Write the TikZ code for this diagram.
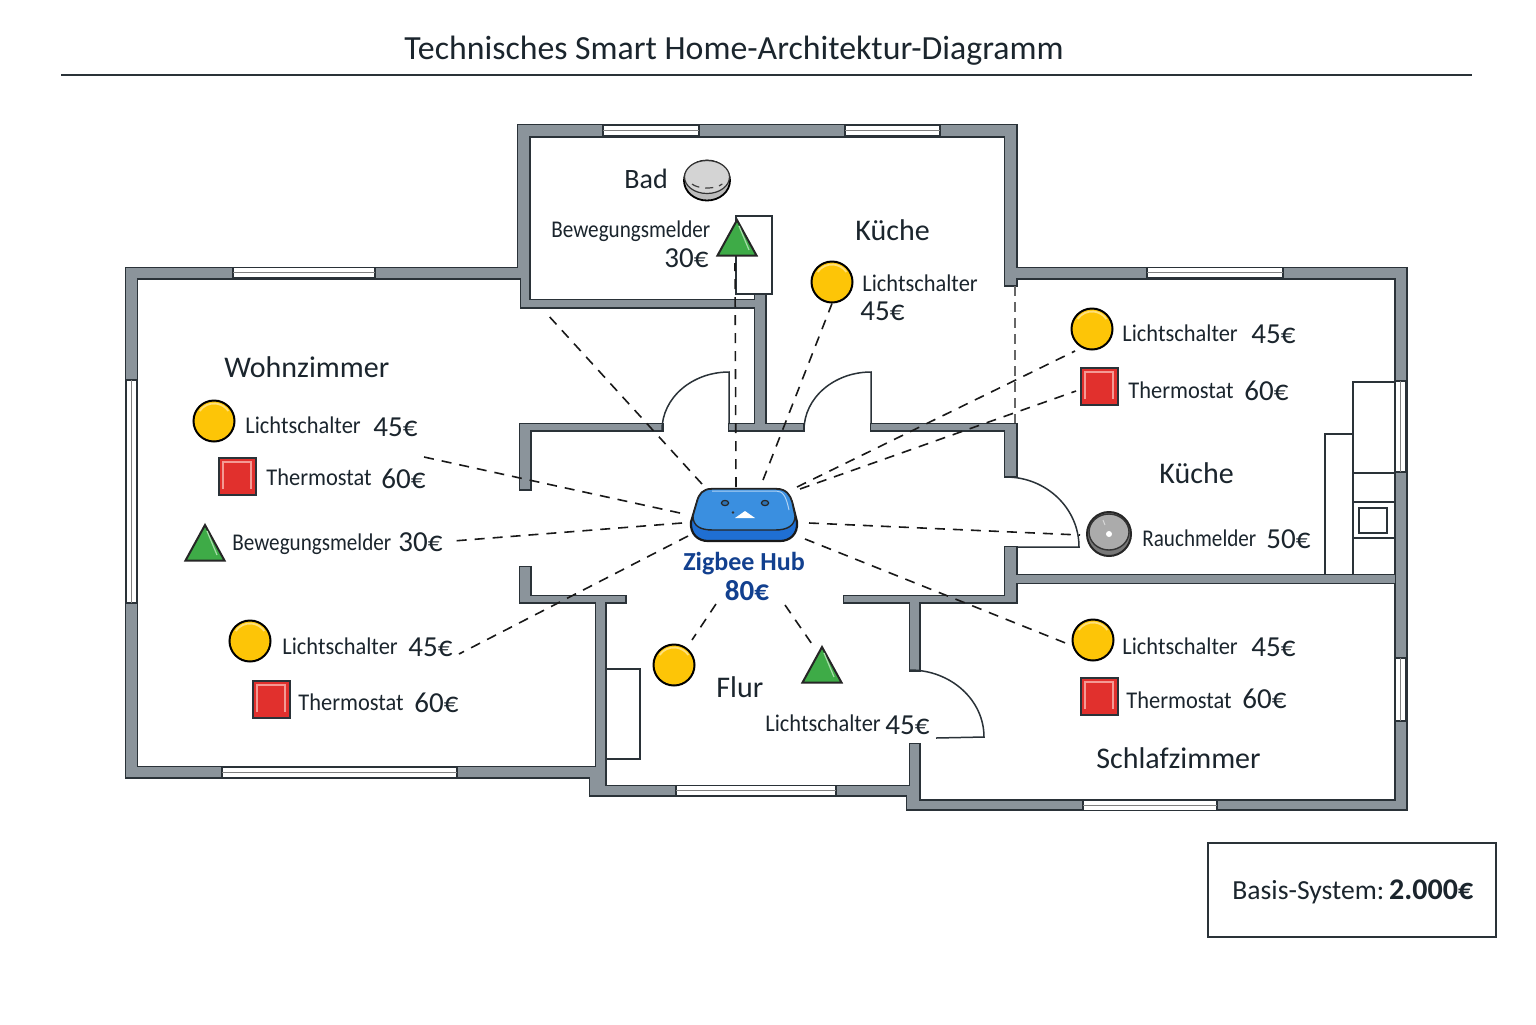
\documentclass[tikz,border=0pt]{standalone}
\usepackage{fontspec}
\setmainfont{Carlito}
\newfontfamily\labfont[FakeStretch=0.935]{Carlito}
\newfontfamily\bewfont[FakeStretch=0.88]{Carlito}
\definecolor{ink}{HTML}{1B252D}
\definecolor{wallc}{HTML}{8B949B}
\definecolor{wallline}{HTML}{2A3238}
\definecolor{lampc}{HTML}{FDC507}
\definecolor{lamphi}{HTML}{FFE07A}
\definecolor{redc}{HTML}{E1302D}
\definecolor{redhi}{HTML}{F49A94}
\definecolor{greenc}{HTML}{3EAB47}
\definecolor{greenhi}{HTML}{A6DDA9}
\definecolor{hubtop}{HTML}{3A8FE0}
\definecolor{hubbot}{HTML}{1F6FD3}
\definecolor{hubtext}{HTML}{12408F}
\definecolor{diskc}{HTML}{D4D4D4}
\definecolor{diskd}{HTML}{ABABAB}
\tikzset{
  lab/.style={anchor=base west,inner sep=0pt,text=ink,font=\fontsize{12}{14}\selectfont\labfont},
  bew/.style={anchor=base west,inner sep=0pt,text=ink,font=\fontsize{12}{14}\selectfont\bewfont},
  price/.style={anchor=base west,inner sep=0pt,text=ink,font=\fontsize{14.5}{17}\selectfont},
  room/.style={anchor=base west,inner sep=0pt,text=ink,font=\fontsize{15}{18}\selectfont},
  link/.style={draw=black!90,line width=0.8pt,dash pattern=on 5pt off 4pt},
  thin line/.style={draw=wallline,line width=0.75pt},
  lamp/.style={circle,draw=black,line width=1pt,fill=lampc,minimum size=20.5pt,inner sep=0pt},
  redbox/.style={rectangle,draw=wallline,line width=1pt,fill=redc,minimum size=18.5pt,inner sep=0pt},
  ghost/.style={rectangle,minimum width=19.5pt,minimum height=17.5pt,inner sep=0pt},
  disk/.style={circle,minimum size=21pt,inner sep=0pt}
}
\newcommand\lampdev[3]{\begin{scope}[shift={(#2,#3)}]
  \node[lamp] (#1) at (0,0) {};
  \draw[lamphi,line width=0.9pt] (0,0) ++(215:17.5) arc[start angle=215,end angle=325,radius=17.5];
\end{scope}}
\newcommand\thermo[3]{\begin{scope}[shift={(#2,#3)}]
  \node[redbox] (#1) at (0,0) {};
  \draw[redhi,line width=0.6pt] (-14,13)--(-14,-14)--(14,-14)--(14,13);
\end{scope}}
\newcommand\motion[3]{\begin{scope}[shift={(#2,#3)}]
  \node[ghost] (#1) at (0,0) {};
  \draw[black!85,line width=1pt,fill=greenc,line join=miter] (0,-18)--(19.5,17.5)--(-19.5,17.5)--cycle;
  \draw[greenhi,line width=0.6pt] (2,-12)--(12,12);
\end{scope}}
\newcommand\wallrect[4]{\draw[wallline,line width=1.5pt,line join=miter] (#1,#2) rectangle (#3,#4);}
\newcommand\wallfill[4]{\fill[wallc] (#1,#2) rectangle (#3,#4);}
\newcommand\winh[3]{\draw[wallline,line width=0.6pt,fill=white] (#1,#3+0.5) rectangle (#2,#3+10.5);\draw[black!50,line width=0.5pt] (#1,#3+5.5)--(#2,#3+5.5);}
\newcommand\winv[3]{\draw[wallline,line width=0.6pt,fill=white] (#3+0.5,#1) rectangle (#3+10.5,#2);\draw[black!50,line width=0.5pt] (#3+5.5,#1)--(#3+5.5,#2);}
\def\wallist{126/268/136.5/777,126/268/529/278,518/125/529/278,518/125/1016/136,1005/125/1016/285,
1016/268/1406/278,1395.5/268/1406/809,907/800.5/1406/809,521/278/529/307,521/300/755/307,755/294/765/430,
520/424/662/430,520/424/530/489,729/424/803/430,871/424/1016/430,1005/424/1016/476,1005/547/1016/602,
844/596/1016/602,1016/575/1395/582.5,520/567/530/602,520/596/625/602,
910/602/919/670,910/744/919/809,907/786/919/809,590/786/910/795,596/602/605/786,590/767/605/795,126/767/605/777}
\begin{document}
\begin{tikzpicture}[x=0.5pt,y=-0.5pt]
\useasboundingbox (0,0) rectangle (1536,1024);
\fill[white] (0,0) rectangle (1536,1024);
% title
\node[anchor=base,inner sep=0pt,text=ink,font=\fontsize{16.9}{20}\selectfont] (title) at (734,59) {Technisches Smart Home-Architektur-Diagramm};
\coordinate (ruleL) at (61,75);
\coordinate (ruleR) at (1472,75);
\draw[wallline,line width=0.6pt] (ruleL)--(ruleR);
% walls
\foreach \a/\b/\c/\d in \wallist {\wallrect{\a}{\b}{\c}{\d}}
\foreach \a/\b/\c/\d in \wallist {\wallfill{\a}{\b}{\c}{\d}}
% windows
\winh{603}{699}{125}
\winh{845}{940}{125}
\winh{233}{375}{267}
\winh{1147}{1283}{267}
\winh{222}{457}{767}
\winh{676}{836}{785}
\winh{1083}{1217}{800}
\winv{380}{603}{126}
\winv{381}{472}{1395}
\winv{658}{721}{1395}
% doors
\draw[thin line] (662,430) arc[start angle=180,end angle=270,x radius=67,y radius=58]--(729,424);
\draw[thin line] (804,430) arc[start angle=180,end angle=270,x radius=67,y radius=58]--(871,424);
\draw[thin line] (1006,477) arc[start angle=270,end angle=360,x radius=73,y radius=70]--(1017,547);
\draw[thin line] (910,670) arc[start angle=270,end angle=360,x radius=74,y radius=67]--(936,738);
% fixtures
\draw[thin line,fill=white] (736,216) rectangle (772,294);
\fill[white] (737,294.5) rectangle (754.5,299);
\draw[thin line] (754.5,294)--(754.5,300);
\draw[thin line] (605,669)--(640,669)--(640,759)--(605,759);
\draw[thin line] (1395,382)--(1353,382)--(1353,574);
\draw[thin line] (1353,434)--(1325,434)--(1325,574);
\draw[thin line] (1353,473)--(1395,473);
\draw[thin line] (1353,502)--(1395,502);
\draw[thin line] (1353,538)--(1395,538);
\draw[thin line] (1359,508) rectangle (1387,533);
% devices
\lampdev{lK}{832}{282}
\lampdev{lR}{1092}{329}
\lampdev{lW}{214}{421}
\lampdev{lWb}{250}{641}
\lampdev{lS}{1093}{640}
\lampdev{lF}{674}{665}
\thermo{tW}{237}{476}
\thermo{tWb}{271}{699}
\thermo{tR}{1099}{386}
\thermo{tS}{1099}{696}
\motion{mB}{737}{238}
\motion{mW}{205}{543}
\motion{mF}{822}{665}
% bad disc
\node[disk] (sB) at (707,180) {};
\draw[black,line width=0.9pt,fill=diskd!80!white] (707,180.5) ellipse[x radius=23,y radius=20];
\draw[black!80,line width=0.6pt,fill=diskc] (707,177) ellipse[x radius=22.5,y radius=16.5];
\draw[black!75,line width=0.6pt,dash pattern=on 4pt off 3pt] (692,184) arc[start angle=150,end angle=30,x radius=17.5,y radius=8];
% rauchmelder
\node[disk,minimum size=22pt] (sR) at (1109,534) {};
\draw[black!85,line width=1pt,fill=diskd!70!black] (1109,534) circle[radius=22];
\draw[black!80,line width=0.7pt,fill=diskd] (1109,532) ellipse[x radius=20,y radius=18];
\fill[white] (1109,534) circle[radius=3];
\draw[white!85!black,line width=0.5pt] (1103,520)--(1105,525);
% hub
\node[inner sep=0pt,minimum width=53pt,minimum height=26.5pt] (hub) at (744,515) {};
\draw[black!90,line width=1.1pt,fill=hubbot] (712,489)--(776,489) .. controls (786,489) and (790,495) .. (792,502)--(797,522) .. controls (798,534) and (790,541) .. (780,541)--(708,541) .. controls (698,541) and (690,534) .. (691,522)--(697,502) .. controls (699,494) and (703,489) .. (712,489)--cycle;
\draw[black!85,line width=0.7pt,fill=hubtop] (712,489)--(776,489) .. controls (786,489) and (790,495) .. (792,502)--(795,516) .. controls (795,526) and (787,530) .. (775,530)--(713,530) .. controls (700,530) and (693,526) .. (693,516)--(697,502) .. controls (699,494) and (703,489) .. (712,489)--cycle;
\draw[white!60!hubtop,line width=0.5pt] (712,491)--(776,491) .. controls (783,491) and (786,496) .. (789,510);
\draw[black!85,line width=0.6pt,fill=hubtop!80!black] (725,503) ellipse[x radius=3.6,y radius=2.6];
\draw[black!85,line width=0.6pt,fill=hubtop!80!black] (765,503) ellipse[x radius=3.6,y radius=2.6];
\fill[white] (735,518)--(745,511)--(755,518)--cycle;
\fill[black!80] (733,512.5) circle[radius=1.3];
% labels
\node[bew] (t1) at (551,237) {Bewegungsmelder};
\node[price] (p1) at (664,267) {30€};
\node[room,font=\fontsize{14}{17}\selectfont] (r1) at (624,188) {Bad};
\node[room] (r2) at (855,240) {Küche};
\node[lab] (t2) at (862,291) {Lichtschalter};
\node[price] (p2) at (860,320) {45€};
\node[lab] (t3) at (1122,341) {Lichtschalter};
\node[price] (p3) at (1251,343) {45€};
\node[lab] (t4) at (1128,398) {Thermostat};
\node[price] (p4) at (1244,400) {60€};
\node[room] (r3) at (1159,483) {Küche};
\node[bew] (t5) at (1142,546) {Rauchmelder};
\node[price] (p5) at (1266,548) {50€};
\node[room] (r4) at (224,377) {Wohnzimmer};
\node[lab] (t6) at (245,433) {Lichtschalter};
\node[price] (p6) at (373,436) {45€};
\node[lab] (t7) at (266,485) {Thermostat};
\node[price] (p7) at (381,488) {60€};
\node[bew] (t8) at (232,550) {Bewegungsmelder};
\node[price] (p8) at (398,551) {30€};
\node[lab] (t9) at (282,654) {Lichtschalter};
\node[price] (p9) at (408,656) {45€};
\node[lab] (t10) at (298,710) {Thermostat};
\node[price] (p10) at (414,712) {60€};
\node[room] (r5) at (716,697) {Flur};
\node[lab] (t11) at (765,731) {Lichtschalter};
\node[price] (p11) at (885,734) {45€};
\node[lab] (t12) at (1122,654) {Lichtschalter};
\node[price] (p12) at (1251,656) {45€};
\node[lab] (t13) at (1126,708) {Thermostat};
\node[price] (p13) at (1242,708) {60€};
\node[room] (r6) at (1096,768) {Schlafzimmer};
\node[anchor=base,inner sep=0pt,text=hubtext,font=\fontsize{13}{15}\selectfont\bfseries] (hl) at (744,570) {Zigbee Hub};
\node[anchor=base,inner sep=0pt,text=hubtext,font=\fontsize{14.5}{17}\selectfont\bfseries] (hp) at (747,600) {80€};
% connector ends
\coordinate (h1) at (702,484);\coordinate (e1) at (547,314);
\coordinate (h2) at (736,487);\coordinate (e2) at (735,263);
\coordinate (h3) at (763,480);
\coordinate (h4) at (797,487);\coordinate (e4) at (1075,351);
\coordinate (h5) at (800,489);\coordinate (e5) at (1076,391);
\coordinate (h6) at (809,523);\coordinate (e6) at (1080,535);
\coordinate (h7) at (805,539);\coordinate (e7) at (1068,644);
\coordinate (h8) at (785,605);\coordinate (e8) at (814,647);
\coordinate (h9) at (716,604);\coordinate (e9) at (692,640);
\coordinate (h10) at (688,536);\coordinate (e10) at (459,654);
\coordinate (h11) at (682,523);\coordinate (e11) at (453,541);
\coordinate (h12) at (680,513);\coordinate (e12) at (424,457);
\coordinate (v1) at (1015,286);\coordinate (v2) at (1015,423);
\draw[link] (h1)--(e1);
\draw[link] (h2)--(e2);
\draw[link] (h3)--(lK.south);
\draw[link] (h4)--(e4);
\draw[link] (h5)--(e5);
\draw[link] (h6)--(e6);
\draw[link] (h7)--(e7);
\draw[link] (h8)--(e8);
\draw[link] (h9)--(e9);
\draw[link] (h10)--(e10);
\draw[link] (h11)--(e11);
\draw[link] (h12)--(e12);
\draw[draw=black!60,line width=0.7pt,dash pattern=on 5pt off 3pt] (v1)--(v2);
% cost box
\node[draw=wallline,line width=0.8pt,fill=white,minimum width=144pt,minimum height=47pt,inner sep=0pt] (cost) at (1352,890) {};
\node[anchor=base west,inner sep=0pt,text=ink,font=\fontsize{13.8}{17}\selectfont] (costt) at (1232,899) {Basis-System:\hspace{2.5pt}\textbf{\fontsize{15}{17}\selectfont 2.000€}};
\end{tikzpicture}
\end{document}
